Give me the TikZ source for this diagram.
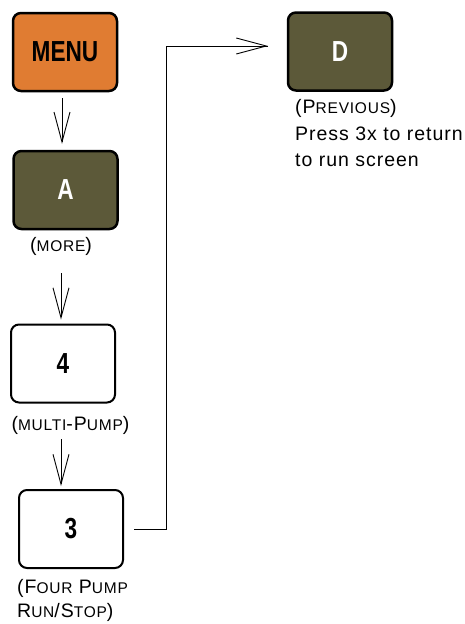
\documentclass[tikz,border=0pt]{standalone}
\usepackage{fontspec}
\setmainfont{Liberation Sans}[LetterSpace=5]
\newfontfamily\keyfont{Liberation Sans}[FakeStretch=0.78]
\usetikzlibrary{arrows.meta,positioning}

% small caps faked with smaller capitals
\newcommand\smc[1]{{\fontsize{15.5}{15.5}\selectfont\MakeUppercase{#1}}}

\begin{document}
\begin{tikzpicture}[x=1pt, y=-1pt]
		% Colours of the keys
		\definecolor{menukey}{RGB}{224, 124, 50}  % orange MENU key
		\definecolor{softkey}{RGB}{92, 89, 57}    % olive soft keys
		
		\useasboundingbox (0,0) rectangle (465,624);
		
		% --- Styles ---
		\tikzset{
			key/.style={draw, rounded corners=8pt, minimum width=104pt, minimum height=78pt,
				font=\keyfont\bfseries\fontsize{29}{29}\selectfont},
			darkkey/.style={key, fill=softkey, text=white, line width=2.5pt},
			numkey/.style={key, fill=white, line width=2pt},
			note/.style={inner sep=0pt, font=\fontsize{19.5}{24}\selectfont},
			flow/.style={line width=0.9pt, -{Straight Barb[length=30pt, width=16pt, line width=0.9pt]}}
		}
		
		% --- Keys ---
		\node[darkkey, fill=menukey, text=black] (menu) at (65, 52) {MENU};
		\node[darkkey] (keyA) at (65.5, 190) {A};
		\node[numkey] (key4) at (63, 363.5) {4};
		\node[numkey] (key3) at (71, 529) {3};
		\node[darkkey] (keyD) at (340, 51.5) {D};
		
		% --- Key texts (base = last line) ---
		\node[note, anchor=base] (more) at (61, 251.5) {(\smc{more})};
		\node[note, anchor=base] (multi) at (70.5, 430) {(\smc{multi}-P\smc{ump})};
		\node[note, anchor=base west, align=left] (four) at (17, 617) {(F\smc{our} P\smc{ump}\\R\smc{un}/S\smc{top})};
		\node[note, anchor=base west, align=left, font=\fontsize{19.5}{26.5}\selectfont] (prev) at (295, 166.5)
			{(P\smc{revious})\\Press 3x to return\\to run screen};
		
		% --- Arrows ---
		\coordinate (intoD) at (268, 46);
		\draw[flow, shorten <=6pt, shorten >=6pt] ([xshift=-3pt]menu.south) -- ([xshift=-3.5pt]keyA.north);
		\draw[flow, shorten <=16pt, shorten >=4pt] ([xshift=0pt]more.base |- keyA.south) ++(0,27) -- ([xshift=-2pt]key4.north);
		\draw[flow, shorten <=5pt, shorten >=3pt] ([xshift=-9.5pt]multi.south) -- ([xshift=-10pt]key3.north);
		\draw[line width=0.9pt, shorten <=10pt] (key3.east) -- ++(42,0) |- (intoD);
		\draw[flow] ([xshift=-1pt]intoD) -- (intoD);
		
	\end{tikzpicture}
\end{document}
